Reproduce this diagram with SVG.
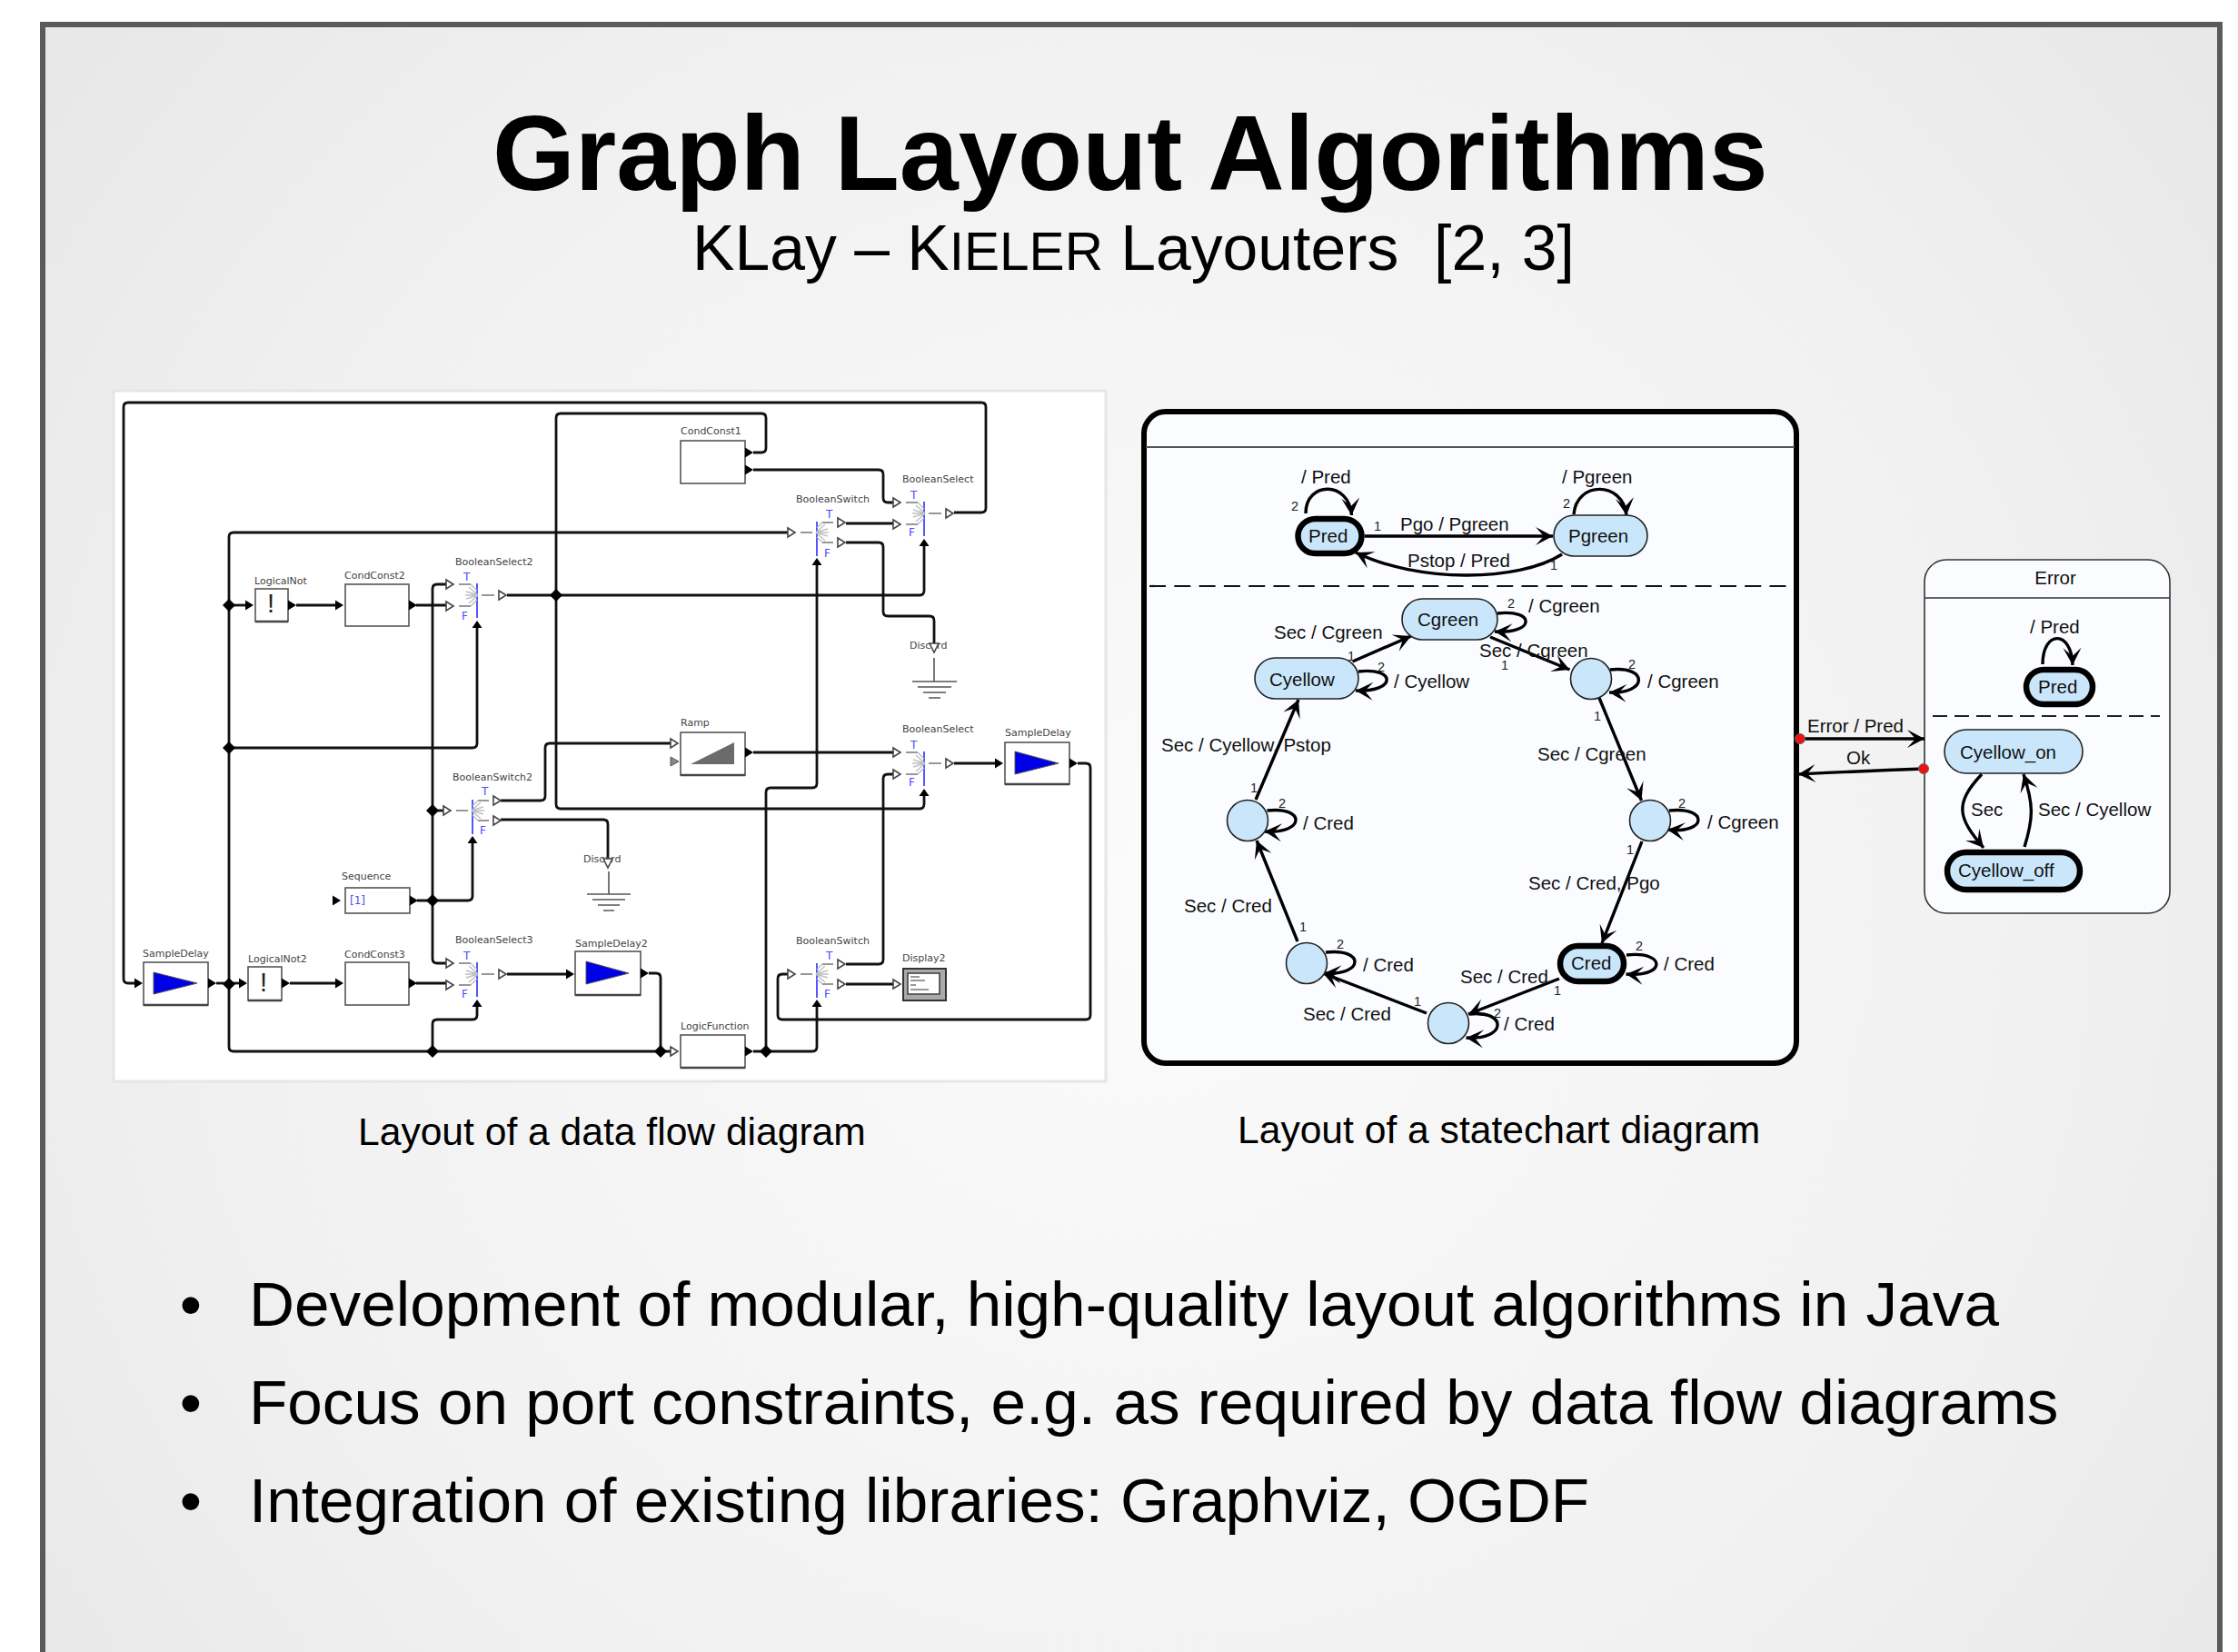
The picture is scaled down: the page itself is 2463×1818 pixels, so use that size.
<svg xmlns="http://www.w3.org/2000/svg" xmlns:xlink="http://www.w3.org/1999/xlink" width="2463" height="1818" viewBox="0 0 2463 1818">
<style>
text{font-family:"Liberation Sans",Arial,sans-serif;fill:#000;white-space:pre}
.title{font-size:116.8px;font-weight:700}
.sub{font-size:69.7px}
.cap{font-size:42.6px}
.bul{font-size:69.3px}
.dl{font-family:"DejaVu Sans",sans-serif;font-size:11px;fill:#444}
.tf{font-family:"DejaVu Sans",sans-serif;font-size:12px;fill:#4a4aff}
.bang{font-size:29px;fill:#222}
.l{font-size:20.5px;fill:#111}
.d{font-size:14.5px;fill:#222;text-anchor:middle}
.st{font-size:20.5px;fill:#111}
.w{fill:none;stroke:#111;stroke-width:2.8}
.box{fill:#fff;stroke:#555;stroke-width:1.6}
.bot{stroke:#444;stroke-width:2.6;fill:none}
.blue{fill:#0000e6;stroke:#555;stroke-width:1}
.gnd{stroke:#555;stroke-width:1.6;fill:none}
.e{fill:none;stroke:#000;stroke-width:3.4;marker-end:url(#sa)}
.s{fill:#c9e6fa;stroke:#222;stroke-width:1.6}
.t{fill:#c9e6fa;stroke:#000;stroke-width:6.5}
.pnl{fill:#fbfcff}
.red{fill:#ee1111;stroke:#666;stroke-width:1}
</style>
<defs>
<radialGradient id="bg" gradientUnits="userSpaceOnUse" cx="1250" cy="1000" r="1650">
<stop offset="0" stop-color="#fbfbfb"/><stop offset="0.6" stop-color="#f1f1f1"/><stop offset="1" stop-color="#e5e5e5"/>
</radialGradient>
<marker id="sa" markerUnits="userSpaceOnUse" viewBox="-20 -11 22 22" refX="0" refY="0" markerWidth="22" markerHeight="22" orient="auto">
<polygon points="-19,-10 0,0 -19,10 -10,0" fill="#000"/>
</marker>
<polygon id="open" points="0,-5 8,0 0,5" fill="#fff" stroke="#444" stroke-width="1.6"/>
<polygon id="bk" points="0,-5.5 9,0 0,5.5" fill="#000"/>
<polygon id="up" points="-5.5,8 0,0 5.5,8" fill="#000"/>
<polygon id="down" points="-5,0 5,0 0,10" fill="#fff" stroke="#444" stroke-width="1.6"/>
<polygon id="dia" points="-7,0 0,-7 7,0 0,7" fill="#000"/>
<g id="sel">
<path d="M0,-13V25" stroke="#4444ff" stroke-width="1.8" fill="none"/>
<path d="M1,0L-9,-9M1,0L-12,-4M1,0H-13M1,0L-12,4M1,0L-9,9" stroke="#c0c0c0" stroke-width="1.5" fill="none"/>
<path d="M-20,-12H-7M-20,12H-7M5,0H19" stroke="#777" stroke-width="1.6" fill="none"/>
<path d="M-7,-12L0,-5M-7,12L0,5" stroke="#bbb" stroke-width="1.4" fill="none"/>
<use href="#open" x="-34" y="-12"/><use href="#open" x="-34" y="12"/><use href="#open" x="24"/><use href="#up" y="28"/>
</g>
<g id="swi">
<path d="M0,-12V26" stroke="#4444ff" stroke-width="1.8" fill="none"/>
<path d="M-1,0L9,-9M-1,0L12,-4M-1,0H13M-1,0L12,4M-1,0L9,9" stroke="#c0c0c0" stroke-width="1.5" fill="none"/>
<path d="M18,-11H6M18,11H6M-5,0H-18" stroke="#777" stroke-width="1.6" fill="none"/>
<path d="M6,-11L0,-5M6,11L0,5" stroke="#bbb" stroke-width="1.4" fill="none"/>
<use href="#open" x="-32"/><use href="#open" x="23" y="-11"/><use href="#open" x="23" y="11"/><use href="#up" y="28"/>
</g>
</defs>
<rect width="2463" height="1818" fill="#fff"/>
<rect id="slide" x="47" y="27" width="2396" height="1860" fill="url(#bg)" stroke="#5a5a5a" stroke-width="6"/>
<text class="title" x="542" y="209">Graph Layout Algorithms</text>
<text class="sub" x="762" y="297">KLay – K<tspan font-size="58.5">IELER</tspan> Layouters  [2, 3]</text>

<rect id="dataflow-panel" x="125" y="430" width="1092" height="760" fill="#fff" stroke="#e6e6e6" stroke-width="3"/>
<g id="statechart-panel">
<rect class="pnl" x="1259" y="453" width="718" height="717" rx="24" stroke="#000" stroke-width="6"/>
<path d="M1261,492H1975" stroke="#555" stroke-width="2" fill="none"/>
<path d="M1265,645H1968" stroke="#111" stroke-width="2.2" fill="none" stroke-dasharray="18 9.3"/>
</g>
<g id="error-state">
<rect class="pnl" x="2118" y="616" width="270" height="389" rx="24" stroke="#333" stroke-width="1.6"/>
<path d="M2118,658H2388" stroke="#333" stroke-width="1.6" fill="none"/>
<path d="M2127,788H2377" stroke="#222" stroke-width="1.8" fill="none" stroke-dasharray="16 8"/>
<text class="st" x="2262" y="643" text-anchor="middle">Error</text>
</g>

<g id="connectors">
<path class="w" d="M1050,564H1080Q1085,564 1085,559V448Q1085,443 1080,443H141Q136,443 136,448V1077Q136,1082 141,1082H148"/>
<path class="w" d="M829,498H838Q843,498 843,493V460Q843,455 838,455H617Q612,455 612,460V885Q612,890 617,890H1012Q1017,890 1017,885V876"/>
<path class="w" d="M870,586H257Q252,586 252,591V1152Q252,1157 257,1157H738"/>
<path class="w" d="M491,643H481Q476,643 476,648V1055Q476,1060 481,1060H491"/>
<path class="w" d="M476,892H488"/>
<path class="w" d="M459,991H515Q520,991 520,986V928"/>
<path class="w" d="M458,666H491"/>
<path class="w" d="M558,655H1012Q1017,655 1017,650V601"/>
<path class="w" d="M252,666H270"/>
<path class="w" d="M326,666H369"/>
<path class="w" d="M252,823H520Q525,823 525,818V691"/>
<path class="w" d="M476,1157V1127Q476,1122 481,1122H520Q525,1122 525,1117V1108"/>
<path class="w" d="M829,517H967Q972,517 972,522V548Q972,553 977,553H983"/>
<path class="w" d="M931,576H983"/>
<path class="w" d="M931,597H967Q972,597 972,602V673Q972,678 977,678H1023Q1028,678 1028,683V708"/>
<path class="w" d="M843,1157V872Q843,867 848,867H894Q899,867 899,862V622"/>
<path class="w" d="M829,1157H894Q899,1157 899,1152V1108"/>
<path class="w" d="M829,828H983"/>
<path class="w" d="M1050,840H1095"/>
<path class="w" d="M1186,840H1195Q1200,840 1200,845V1117Q1200,1122 1195,1122H861Q856,1122 856,1117V1077Q856,1072 861,1072H867"/>
<path class="w" d="M931,1061H967Q972,1061 972,1056V857Q972,852 977,852H983"/>
<path class="w" d="M931,1083H983"/>
<path class="w" d="M558,1072H623"/>
<path class="w" d="M714,1071H722Q727,1071 727,1076V1157"/>
<path class="w" d="M238,1082H263"/>
<path class="w" d="M319,1082H369"/>
<path class="w" d="M458,1082H491"/>
<path class="w" d="M551,881H595Q600,881 600,876V823Q600,818 605,818H738"/>
<path class="w" d="M551,902H664Q669,902 669,907V945"/>
<use href="#dia" x="252" y="666"/><use href="#dia" x="252" y="823"/><use href="#dia" x="252" y="1083"/>
<use href="#dia" x="476" y="892"/><use href="#dia" x="476" y="991"/><use href="#dia" x="476" y="1157"/>
<use href="#dia" x="612" y="655"/><use href="#dia" x="727" y="1157"/><use href="#dia" x="843" y="1157"/>
<use href="#bk" x="148" y="1082"/><use href="#bk" x="263" y="1082"/><use href="#bk" x="270" y="666"/>
<use href="#bk" x="369" y="666"/><use href="#bk" x="369" y="1082"/><use href="#bk" x="623" y="1072"/><use href="#bk" x="1095" y="840"/>

<path class="e" d="M1502,590H1709"/>
<path class="e" d="M1719,610C1670,641 1560,641 1492,608"/>
<path class="e" d="M1437,565C1437,529 1485,529 1487.5,567"/>
<path class="e" d="M1732,566C1735,529 1786,529 1790,567"/>
<path class="e" d="M1648,675C1690,670 1690,698 1645,695"/>
<path class="e" d="M1495,739C1537,734 1537,762 1492,760"/>
<path class="e" d="M1772,737C1814,732 1814,764 1771,762"/>
<path class="e" d="M1837,892C1880,887 1880,918 1835,913"/>
<path class="e" d="M1790,1051C1834,1046 1834,1076 1789.5,1072"/>
<path class="e" d="M1617,1116C1659,1111 1659,1145 1613.5,1142"/>
<path class="e" d="M1459,1048C1502,1043 1502,1074 1457,1071"/>
<path class="e" d="M1394.5,892C1437,887 1437,918 1391.5,915"/>
<path class="e" d="M1488.5,728L1553,700"/>
<path class="e" d="M1640,701L1727.5,737"/>
<path class="e" d="M1760,768L1806.5,881"/>
<path class="e" d="M1807,926L1763,1038"/>
<path class="e" d="M1716,1077L1616,1116"/>
<path class="e" d="M1570,1115L1456,1071"/>
<path class="e" d="M1428,1036L1383,925"/>
<path class="e" d="M1382,880L1429,770"/>
<path class="e" d="M2248,731C2248,693 2280,693 2281,732"/>
<path class="e" d="M2181,852C2150,885 2155,900 2183,933"/>
<path class="e" d="M2228,932C2238,900 2238,885 2227,852"/>
<path class="e" d="M1981,813H2118"/>
<path class="e" d="M2117,846C2060,848 2020,850 1979,852"/>
</g>

<g id="node-labels-edges">
<text class="l" x="1541" y="584">Pgo / Pgreen</text>
<text class="l" x="1549" y="624">Pstop / Pred</text>
<text class="l" x="1432" y="532">/ Pred</text>
<text class="l" x="1719" y="532">/ Pgreen</text>
<text class="l" x="1682" y="674">/ Cgreen</text>
<text class="l" x="1534" y="757">/ Cyellow</text>
<text class="l" x="1813" y="757">/ Cgreen</text>
<text class="l" x="1402" y="703">Sec / Cgreen</text>
<text class="l" x="1628" y="723">Sec / Cgreen</text>
<text class="l" x="1278" y="827">Sec / Cyellow, Pstop</text>
<text class="l" x="1692" y="837">Sec / Cgreen</text>
<text class="l" x="1434" y="913">/ Cred</text>
<text class="l" x="1879" y="912">/ Cgreen</text>
<text class="l" x="1303" y="1004">Sec / Cred</text>
<text class="l" x="1682" y="979">Sec / Cred, Pgo</text>
<text class="l" x="1500" y="1069">/ Cred</text>
<text class="l" x="1831" y="1068">/ Cred</text>
<text class="l" x="1607" y="1082">Sec / Cred</text>
<text class="l" x="1434" y="1123">Sec / Cred</text>
<text class="l" x="1655" y="1134">/ Cred</text>
<text class="l" x="2234" y="697">/ Pred</text>
<text class="l" x="2169" y="898">Sec</text>
<text class="l" x="2243" y="898">Sec / Cyellow</text>
<text class="l" x="1989" y="806">Error / Pred</text>
<text class="l" x="2032" y="841">Ok</text>
<text class="d" x="1516" y="584">1</text><text class="d" x="1710" y="627">1</text>
<text class="d" x="1425" y="562">2</text><text class="d" x="1724" y="559">2</text>
<text class="d" x="1663" y="669">2</text><text class="d" x="1520" y="739">2</text>
<text class="d" x="1796" y="736">2</text><text class="d" x="1487" y="727">1</text>
<text class="d" x="1656" y="737">1</text><text class="d" x="1758" y="793">1</text>
<text class="d" x="1851" y="889">2</text><text class="d" x="1411" y="889">2</text>
<text class="d" x="1794" y="940">1</text><text class="d" x="1380" y="872">1</text>
<text class="d" x="1804" y="1046">2</text><text class="d" x="1475" y="1044">2</text>
<text class="d" x="1714" y="1095">1</text><text class="d" x="1648" y="1120">2</text>
<text class="d" x="1560" y="1107">1</text><text class="d" x="1434" y="1025">1</text>
</g>

<g id="n-Pred"><rect class="t" x="1428.5" y="571" width="70" height="38" rx="19"/><text class="st" x="1440" y="597">Pred</text></g>
<g id="n-Pgreen"><rect class="s" x="1710" y="567" width="103" height="45" rx="22.5"/><text class="st" x="1726" y="597">Pgreen</text></g>
<g id="n-Cgreen"><rect class="s" x="1543" y="659" width="105" height="45" rx="22.5"/><text class="st" x="1560" y="689">Cgreen</text></g>
<g id="n-Cyellow"><rect class="s" x="1381" y="724" width="114" height="45" rx="22.5"/><text class="st" x="1397" y="755">Cyellow</text></g>
<g id="n-S1"><ellipse class="s" cx="1751" cy="747" rx="22.5" ry="22.5"/></g>
<g id="n-S2"><ellipse class="s" cx="1816" cy="903" rx="22.5" ry="22.5"/></g>
<g id="n-S3"><ellipse class="s" cx="1373" cy="903" rx="22.5" ry="22.5"/></g>
<g id="n-S4"><ellipse class="s" cx="1438" cy="1060" rx="22.5" ry="22.5"/></g>
<g id="n-S5"><ellipse class="s" cx="1594" cy="1126" rx="22.5" ry="22.5"/></g>
<g id="n-Cred"><rect class="t" x="1717" y="1041" width="70" height="39" rx="19.5"/><text class="st" x="1729" y="1067">Cred</text></g>
<g id="n-ErrPred"><rect class="t" x="2230" y="737" width="73" height="38" rx="19"/><text class="st" x="2243" y="763">Pred</text></g>
<g id="n-CyellowOn"><rect class="s" x="2140" y="803" width="152" height="48" rx="24"/><text class="st" x="2157" y="835">Cyellow_on</text></g>
<g id="n-CyellowOff"><rect class="t" x="2143" y="938" width="146" height="41" rx="20.5"/><text class="st" x="2155" y="965">Cyellow_off</text></g>
<circle class="red" cx="1981" cy="813" r="5.5"/><circle class="red" cx="2117" cy="846" r="5.5"/>

<g id="d-LogicalNot"><text class="dl" x="280" y="643">LogicalNot</text><rect class="box" x="281" y="648" width="36" height="36"/><path class="bot" d="M281,684H317"/><text class="bang" x="298" y="674" text-anchor="middle">!</text><use href="#bk" x="317" y="666"/></g>
<g id="d-CondConst2"><text class="dl" x="379" y="637">CondConst2</text><rect class="box" x="380" y="643" width="70" height="46"/><use href="#bk" x="450" y="666"/></g>
<g id="d-BooleanSelect2"><text class="dl" x="501" y="622">BooleanSelect2</text><use href="#sel" x="525" y="655"/><text class="tf" x="510" y="639">T</text><text class="tf" x="508" y="682">F</text></g>
<g id="d-CondConst1"><text class="dl" x="749" y="478">CondConst1</text><rect class="box" x="749" y="485" width="71" height="47"/><use href="#bk" x="820" y="498"/><use href="#bk" x="820" y="517"/></g>
<g id="d-BooleanSelect"><text class="dl" x="993" y="531">BooleanSelect</text><use href="#sel" x="1017" y="565"/><text class="tf" x="1002" y="549">T</text><text class="tf" x="1000" y="590">F</text></g>
<g id="d-BooleanSwitch"><text class="dl" x="876" y="553">BooleanSwitch</text><use href="#swi" x="899" y="586"/><text class="tf" x="909" y="570">T</text><text class="tf" x="907" y="613">F</text></g>
<g id="d-Discard"><text class="dl" x="1001" y="714">Discard</text><use href="#down" x="1028" y="708"/><path class="gnd" d="M1028,724V750M1004,750H1053M1010,756H1047M1016,762H1041M1022,768H1035"/></g>
<g id="d-Ramp"><text class="dl" x="749" y="799">Ramp</text><rect class="box" x="749" y="806" width="71" height="47"/><path class="bot" d="M749,853H820"/><polygon points="760,841 808,841 808,817" fill="#6b6b6b"/><use href="#open" x="738" y="818"/><polygon points="738,833 747,838 738,843" fill="#888" stroke="#555"/><use href="#bk" x="820" y="828"/></g>
<g id="d-BooleanSelect-2"><text class="dl" x="993" y="806">BooleanSelect</text><use href="#sel" x="1017" y="840"/><text class="tf" x="1002" y="824">T</text><text class="tf" x="1000" y="865">F</text></g>
<g id="d-SampleDelay-R"><text class="dl" x="1106" y="810">SampleDelay</text><rect class="box" x="1106" y="817" width="71" height="46"/><path class="bot" d="M1106,863H1177"/><polygon class="blue" points="1117,827 1165,840 1117,852"/><use href="#bk" x="1177" y="840"/></g>
<g id="d-BooleanSwitch2"><text class="dl" x="498" y="859">BooleanSwitch2</text><use href="#swi" x="520" y="892"/><text class="tf" x="530" y="875">T</text><text class="tf" x="528" y="918">F</text></g>
<g id="d-Discard-2"><text class="dl" x="642" y="949">Discard</text><use href="#down" x="669" y="945"/><path class="gnd" d="M670,959V984M646,984H694M652,990H688M658,996H682M664,1002H676"/></g>
<g id="d-Sequence"><text class="dl" x="376" y="968">Sequence</text><use href="#bk" x="366" y="991"/><rect class="box" x="380" y="977" width="71" height="28"/><text class="tf" x="385" y="995">[1]</text><use href="#bk" x="451" y="991"/></g>
<g id="d-SampleDelay-L"><text class="dl" x="157" y="1053">SampleDelay</text><rect class="box" x="158" y="1059" width="71" height="47"/><path class="bot" d="M158,1106H229"/><polygon class="blue" points="169,1070 217,1082 169,1094"/><use href="#bk" x="229" y="1082"/></g>
<g id="d-LogicalNot2"><text class="dl" x="273" y="1059">LogicalNot2</text><rect class="box" x="273" y="1064" width="37" height="37"/><path class="bot" d="M273,1101H310"/><text class="bang" x="290" y="1091" text-anchor="middle">!</text><use href="#bk" x="310" y="1082"/></g>
<g id="d-CondConst3"><text class="dl" x="379" y="1054">CondConst3</text><rect class="box" x="380" y="1059" width="70" height="47"/><use href="#bk" x="450" y="1082"/></g>
<g id="d-BooleanSelect3"><text class="dl" x="501" y="1038">BooleanSelect3</text><use href="#sel" x="525" y="1072"/><text class="tf" x="510" y="1056">T</text><text class="tf" x="508" y="1098">F</text></g>
<g id="d-SampleDelay2"><text class="dl" x="633" y="1042">SampleDelay2</text><rect class="box" x="633" y="1047" width="72" height="48"/><path class="bot" d="M633,1095H705"/><polygon class="blue" points="645,1058 692,1071 645,1083"/><use href="#bk" x="705" y="1071"/></g>
<g id="d-LogicFunction"><text class="dl" x="749" y="1133">LogicFunction</text><use href="#open" x="738" y="1157"/><rect class="box" x="749" y="1139" width="71" height="36"/><path class="bot" d="M749,1175H820"/><use href="#bk" x="820" y="1157"/></g>
<g id="d-BooleanSwitch-2"><text class="dl" x="876" y="1039">BooleanSwitch</text><use href="#swi" x="899" y="1072"/><text class="tf" x="909" y="1056">T</text><text class="tf" x="907" y="1098">F</text></g>
<g id="d-Display2"><text class="dl" x="993" y="1058">Display2</text><use href="#open" x="983" y="1083"/><rect x="994" y="1066" width="47" height="35" fill="#aaa" stroke="#333" stroke-width="2"/><rect x="999" y="1071" width="35" height="23" fill="#fff" stroke="#444" stroke-width="1.6"/><path d="M1002,1075H1012M1002,1079H1018M1002,1084H1008M1002,1089H1022" stroke="#777" stroke-width="1.4" fill="none"/></g>

<text class="cap" x="394" y="1260">Layout of a data flow diagram</text>
<text class="cap" x="1362" y="1258">Layout of a statechart diagram</text>
<g id="bullets">
<text class="bul" x="210" y="1459" text-anchor="middle">•</text><text class="bul" x="274" y="1459">Development of modular, high-quality layout algorithms in Java</text>
<text class="bul" x="210" y="1567" text-anchor="middle">•</text><text class="bul" x="274" y="1567">Focus on port constraints, e.g. as required by data flow diagrams</text>
<text class="bul" x="210" y="1675" text-anchor="middle">•</text><text class="bul" x="274" y="1675">Integration of existing libraries: Graphviz, OGDF</text>
</g>
</svg>
